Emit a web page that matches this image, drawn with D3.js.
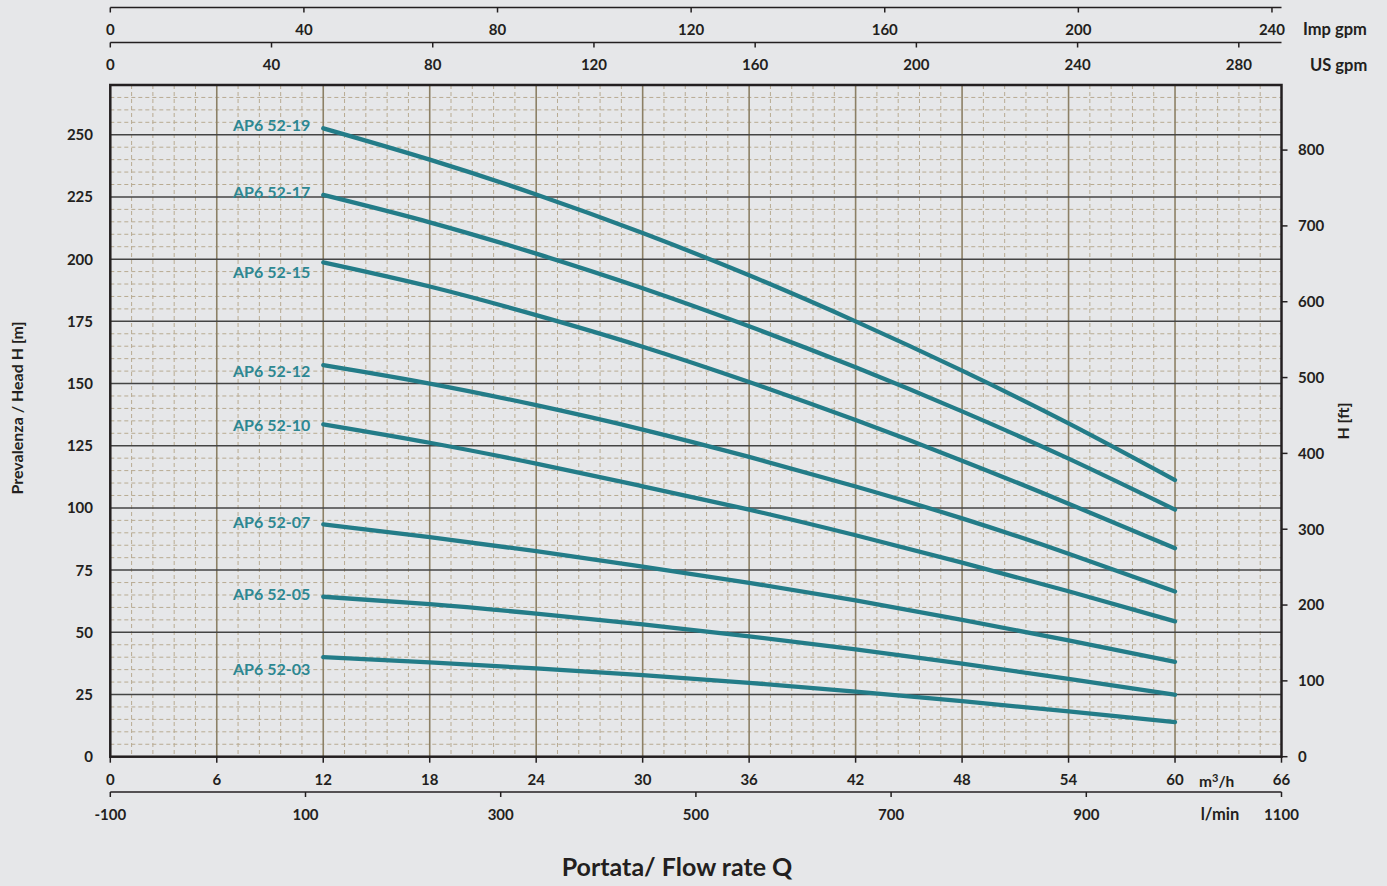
<!DOCTYPE html>
<html><head><meta charset="utf-8">
<script src="https://cdn.jsdelivr.net/npm/d3@7"></script>
<style>
html,body{margin:0;padding:0;background:#e6e7e9;}
svg{display:block;font-family:Lato,"Open Sans",sans-serif;font-weight:700;}
</style></head>
<body>
<svg id="chart" width="1387" height="886"></svg>
<script>
// ---- data ----
const flow = [12, 18, 24, 30, 36, 42, 48, 54, 60]; // m3/h
const models = ["AP6 52-19","AP6 52-17","AP6 52-15","AP6 52-12","AP6 52-10","AP6 52-07","AP6 52-05","AP6 52-03"];
const h19 = [252.6, 240.0, 226.0, 210.5, 193.5, 175.0, 155.2, 134.0, 111.2];
const h17 = [225.8, 214.8, 202.2, 188.3, 173.0, 156.5, 138.8, 119.8, 99.3];
const h15 = [198.7, 189.0, 177.5, 164.8, 150.6, 135.3, 119.0, 101.7, 83.8];
const h12 = [157.4, 150.0, 141.3, 131.5, 120.5, 108.6, 95.8, 81.6, 66.4];
const h10 = [133.6, 126.2, 117.8, 108.7, 99.3, 89.0, 78.0, 66.5, 54.4];
const h07 = [93.4, 88.3, 82.6, 76.4, 69.9, 62.8, 55.0, 46.8, 38.1];
const h05 = [64.3, 61.3, 57.5, 53.2, 48.4, 43.1, 37.4, 31.3, 24.9];
const h03 = [40.0, 37.9, 35.5, 32.8, 29.7, 26.2, 22.3, 18.2, 13.9];
const heads = [h19, h17, h15, h12, h10, h07, h05, h03];
const labelHead = [253.7, 227, 194.7, 155, 133.1, 94.2, 65.3, 35.1]; // label anchor heights (m)

const m3hTicks = [0, 6, 12, 18, 24, 30, 36, 42, 48, 54, 60, 66];
const lminTicks = [-100, 100, 300, 500, 700, 900, 1100];
const usTicks = [0, 40, 80, 120, 160, 200, 240, 280];
const impTicks = [0, 40, 80, 120, 160, 200, 240];
const headTicks = [0, 25, 50, 75, 100, 125, 150, 175, 200, 225, 250];
const ftTicks = [0, 100, 200, 300, 400, 500, 600, 700, 800];

const X_MAX = 66, H_MAX = 270;
const US_PER_M3H = 4.4029, IMP_PER_M3H = 3.6662, FT_PER_M = 3.28084;

// ---- layout ----
const L = 110.3, R = 1281.5, T = 85, B = 756.7;
const svg = d3.select("#chart");
const x = d3.scaleLinear().domain([0, X_MAX]).range([L, R]);
const y = d3.scaleLinear().domain([0, H_MAX]).range([B, T]);
const yFt = d3.scaleLinear().domain([0, H_MAX * FT_PER_M]).range([B, T]);
const xUS = d3.scaleLinear().domain([0, X_MAX * US_PER_M3H]).range([L, R]);
const xImp = d3.scaleLinear().domain([0, X_MAX * IMP_PER_M3H]).range([L, R]);
const xL = d3.scaleLinear().domain([-100, 1100]).range([L, R]);

const textCol = "#231f20";
const g = svg.append("g");

// minor grid
const minorX = d3.range(0, X_MAX + 0.001, 1.2).filter(v => Math.abs(v / 6 - Math.round(v / 6)) > 1e-6);
const minorY = d3.range(0, H_MAX + 0.001, 5).filter(v => v % 25 !== 0);
g.selectAll(".mx").data(minorX).join("line")
  .attr("x1", d => x(d)).attr("x2", d => x(d)).attr("y1", T).attr("y2", B)
  .attr("stroke", "#b8ab92").attr("stroke-width", 1).attr("stroke-dasharray", "4,3");
g.selectAll(".my").data(minorY).join("line")
  .attr("x1", L).attr("x2", R).attr("y1", d => y(d)).attr("y2", d => y(d))
  .attr("stroke", "#b8ab92").attr("stroke-width", 1).attr("stroke-dasharray", "4,3");
// major grid
g.selectAll(".Mx").data(m3hTicks.slice(1, -1)).join("line")
  .attr("x1", d => x(d)).attr("x2", d => x(d)).attr("y1", T).attr("y2", B)
  .attr("stroke", "#8c8066").attr("stroke-width", 1.6);
g.selectAll(".My").data(headTicks.slice(1)).join("line")
  .attr("x1", L).attr("x2", R).attr("y1", d => y(d)).attr("y2", d => y(d))
  .attr("stroke", "#444").attr("stroke-width", 1.5);

// frame
g.append("rect").attr("x", L).attr("y", T).attr("width", R - L).attr("height", B - T)
  .attr("fill", "none").attr("stroke", "#231f20").attr("stroke-width", 2.5);

// curves
const line = d3.line().x((d, i) => x(flow[i])).y(d => y(d)).curve(d3.curveNatural);
svg.append("g").selectAll("path").data(heads).join("path")
  .attr("d", d => line(d)).attr("fill", "none").attr("stroke", "#237c88")
  .attr("stroke-width", 4.3).attr("stroke-linecap", "round");

// curve labels
svg.append("g").selectAll("text").data(models).join("text")
  .attr("x", x(flow[0]) - 13).attr("y", (d, i) => y(labelHead[i]))
  .attr("dy", "0.36em").attr("text-anchor", "end")
  .attr("fill", "#2d8792").attr("font-size", 16).text(d => d);

// left axis labels
svg.append("g").selectAll("text").data(headTicks).join("text")
  .attr("x", 93).attr("y", d => y(d)).attr("dy", "0.36em").attr("text-anchor", "end")
  .attr("fill", textCol).attr("font-size", 15).text(d => d);

// right axis (ft)
const ra = svg.append("g");
ra.selectAll("line").data(ftTicks).join("line")
  .attr("x1", R).attr("x2", R + 6).attr("y1", d => yFt(d)).attr("y2", d => yFt(d))
  .attr("stroke", textCol).attr("stroke-width", 1.5);
ra.selectAll("text").data(ftTicks).join("text")
  .attr("x", 1298).attr("y", d => yFt(d)).attr("dy", "0.36em")
  .attr("fill", textCol).attr("font-size", 15).text(d => d);

// bottom m3/h axis
const ba = svg.append("g");
ba.selectAll("line").data(m3hTicks).join("line")
  .attr("x1", d => x(d)).attr("x2", d => x(d)).attr("y1", B).attr("y2", B + 6)
  .attr("stroke", textCol).attr("stroke-width", 1.5);
ba.selectAll("text").data(m3hTicks).join("text")
  .attr("x", d => x(d)).attr("y", 780).attr("dy", "0.36em").attr("text-anchor", "middle")
  .attr("fill", textCol).attr("font-size", 15).text(d => d);
ba.append("text").attr("x", 1199).attr("y", 781).attr("dy", "0.36em")
  .attr("fill", textCol).attr("font-size", 15.5)
  .html('m<tspan dy="-5" font-size="11">3</tspan><tspan dy="5">/h</tspan>');

// bottom l/min axis
const la = svg.append("g");
const lminY = 792;
la.append("line").attr("x1", L).attr("x2", R).attr("y1", lminY).attr("y2", lminY)
  .attr("stroke", textCol).attr("stroke-width", 1.6);
la.selectAll(".t").data(lminTicks).join("line")
  .attr("x1", d => xL(d)).attr("x2", d => xL(d)).attr("y1", lminY).attr("y2", lminY + 5)
  .attr("stroke", textCol).attr("stroke-width", 1.5);
la.selectAll("text.l").data(lminTicks).join("text")
  .attr("x", d => xL(d)).attr("y", 815).attr("dy", "0.36em").attr("text-anchor", "middle")
  .attr("fill", textCol).attr("font-size", 15).text(d => d);
la.append("text").attr("x", 1220).attr("y", 814).attr("dy", "0.36em").attr("text-anchor", "middle")
  .attr("fill", textCol).attr("font-size", 16.5).text("l/min");

// top axes
function topAxis(scale, ticks, lineY, labY, unit, unitX) {
  const t = svg.append("g");
  t.append("line").attr("x1", L).attr("x2", R).attr("y1", lineY).attr("y2", lineY)
    .attr("stroke", textCol).attr("stroke-width", 1.6);
  t.selectAll("line.tk").data(ticks).join("line")
    .attr("x1", d => scale(d)).attr("x2", d => scale(d)).attr("y1", lineY).attr("y2", lineY + 5)
    .attr("stroke", textCol).attr("stroke-width", 1.5);
  t.selectAll("text.tl").data(ticks).join("text")
    .attr("x", d => scale(d)).attr("y", labY).attr("dy", "0.36em").attr("text-anchor", "middle")
    .attr("fill", textCol).attr("font-size", 15).text(d => d);
  t.append("text").attr("x", unitX).attr("y", labY).attr("dy", "0.36em")
    .attr("fill", textCol).attr("font-size", 16.5).text(unit);
}
topAxis(xImp, impTicks, 7.5, 29.5, "Imp gpm", 1303);
topAxis(xUS, usTicks, 42.5, 65, "US gpm", 1310);

// axis titles
svg.append("text").attr("transform", "translate(17,408) rotate(-90)")
  .attr("text-anchor", "middle").attr("dy", "0.36em")
  .attr("fill", textCol).attr("font-size", 16).text("Prevalenza / Head H [m]");
svg.append("text").attr("transform", "translate(1343,421) rotate(-90)")
  .attr("text-anchor", "middle").attr("dy", "0.36em")
  .attr("fill", textCol).attr("font-size", 16).text("H [ft]");
svg.append("text").attr("x", 677).attr("y", 867).attr("dy", "0.36em").attr("text-anchor", "middle")
  .attr("fill", textCol).attr("font-size", 25).text("Portata/ Flow rate Q");
</script>
</body></html>
